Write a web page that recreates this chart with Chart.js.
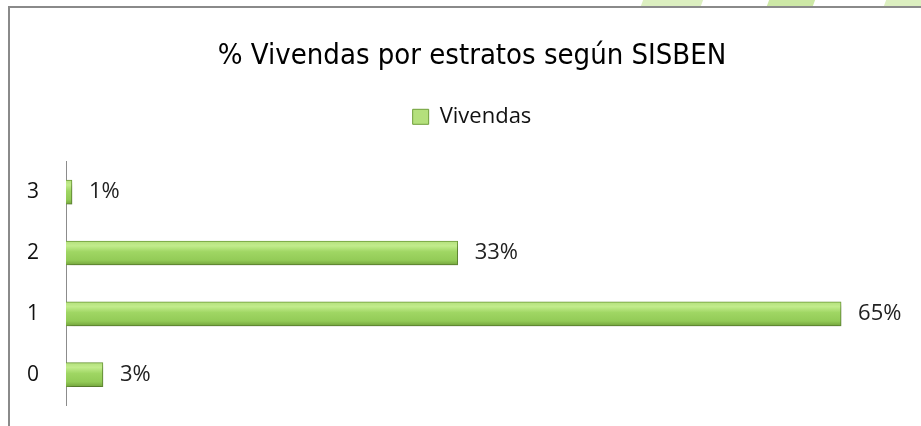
<!DOCTYPE html>
<html>
<head>
<meta charset="utf-8">
<script src="https://cdn.jsdelivr.net/npm/chart.js@4/dist/chart.umd.min.js"></script>
<style>
  html, body { margin: 0; padding: 0; background: #fff; }
  #wrap { position: relative; width: 921px; height: 426px; overflow: hidden; }
  #frame { position: absolute; left: 8px; top: 6px; width: 930px; height: 440px;
           border-left: 2px solid #8a8a8a; border-top: 2px solid #8a8a8a; }
  .stripe { position: absolute; top: 0; height: 6px; background: #dcefc0; transform: skewX(-20deg); }
  #chart { position: absolute; left: 0; top: 0; }
</style>
</head>
<body>
<div id="wrap">
  <div class="stripe" style="left:642px;width:60px;"></div>
  <div class="stripe" style="left:768px;width:46px;background:#cde8a6;"></div>
  <div class="stripe" style="left:885px;width:40px;"></div>
  <div id="frame"></div>
  <canvas id="chart" width="921" height="426"></canvas>
</div>
<script>
(function() {
    const categories = ['0', '1', '2', '3'];
    const values = [3.1, 65.1, 32.9, 0.5];
    const seriesName = 'Vivendas';
    const chartTitle = '% Vivendas por estratos según SISBEN';

    function barFill(context) {
        const chart = context.chart;
        if (context.type !== 'data' || !chart.chartArea) {
            return '#98cf5c';
        }
        const y = chart.scales.y.getPixelForValue(context.dataIndex);
        const g = chart.ctx.createLinearGradient(0, y - 12, 0, y + 12);
        g.addColorStop(0, '#b4e07c');
        g.addColorStop(0.2, '#c2ec8c');
        g.addColorStop(0.45, '#9fd663');
        g.addColorStop(0.8, '#93cb57');
        g.addColorStop(1, '#74a53d');
        return g;
    }

    const shadowPlugin = {
        id: 'barShadow',
        beforeDatasetsDraw: function(chart) {
            const ctx = chart.ctx;
            ctx.save();
            ctx.shadowColor = 'rgba(0,0,0,0.28)';
            ctx.shadowBlur = 5;
            ctx.shadowOffsetX = 2;
            ctx.shadowOffsetY = 3;
        },
        afterDatasetsDraw: function(chart) {
            chart.ctx.restore();
        }
    };

    const valueLabels = {
        id: 'valueLabels',
        afterDraw: function(chart) {
            const ctx = chart.ctx;
            const meta = chart.getDatasetMeta(0);
            ctx.save();
            ctx.font = '22px "Open Sans", sans-serif';
            ctx.fillStyle = '#222';
            ctx.textBaseline = 'middle';
            ctx.textAlign = 'left';
            meta.data.forEach(function(bar, i) {
                ctx.fillText(Math.round(values[i]) + '%', bar.x + 17, bar.y);
            });
            ctx.restore();
        }
    };

    new Chart(document.getElementById('chart'), {
        type: 'bar',
        data: {
            labels: categories,
            datasets: [{
                label: seriesName,
                data: values,
                backgroundColor: barFill,
                borderColor: '#6f9e3a',
                borderWidth: 1,
                borderSkipped: 'left',
                barThickness: 24
            }]
        },
        options: {
            indexAxis: 'y',
            responsive: false,
            animation: false,
            layout: {
                padding: { left: 27, right: 43, top: 33, bottom: 21 }
            },
            scales: {
                x: {
                    display: false,
                    min: 0,
                    max: 68.2
                },
                y: {
                    reverse: true,
                    grid: { display: false },
                    border: { display: true, color: '#8c8c8c', width: 1 },
                    ticks: {
                        color: '#111',
                        padding: 0,
                        crossAlign: 'far',
                        font: { family: '"Open Sans", sans-serif', size: 21 }
                    },
                    afterFit: function(scale) { scale.width = 39; }
                }
            },
            plugins: {
                title: {
                    display: true,
                    fullSize: false,
                    text: chartTitle,
                    color: '#000',
                    font: { family: '"DejaVu Sans Condensed", "DejaVu Sans", sans-serif', size: 29, weight: 'normal' },
                    padding: { top: 6, bottom: 0 }
                },
                legend: {
                    display: true,
                    fullSize: false,
                    labels: {
                        color: '#111',
                        boxWidth: 16,
                        boxHeight: 15,
                        padding: 32,
                        font: { family: '"Open Sans", sans-serif', size: 22 }
                    }
                },
                // empty block below the legend, keeps the gap above the bars
                subtitle: {
                    display: true,
                    fullSize: false,
                    text: '',
                    weight: 500,
                    font: { size: 10 },
                    padding: { top: 0, bottom: 12 }
                },
                tooltip: { enabled: false }
            }
        },
        plugins: [shadowPlugin, valueLabels]
    });
})();
</script>
</body>
</html>
